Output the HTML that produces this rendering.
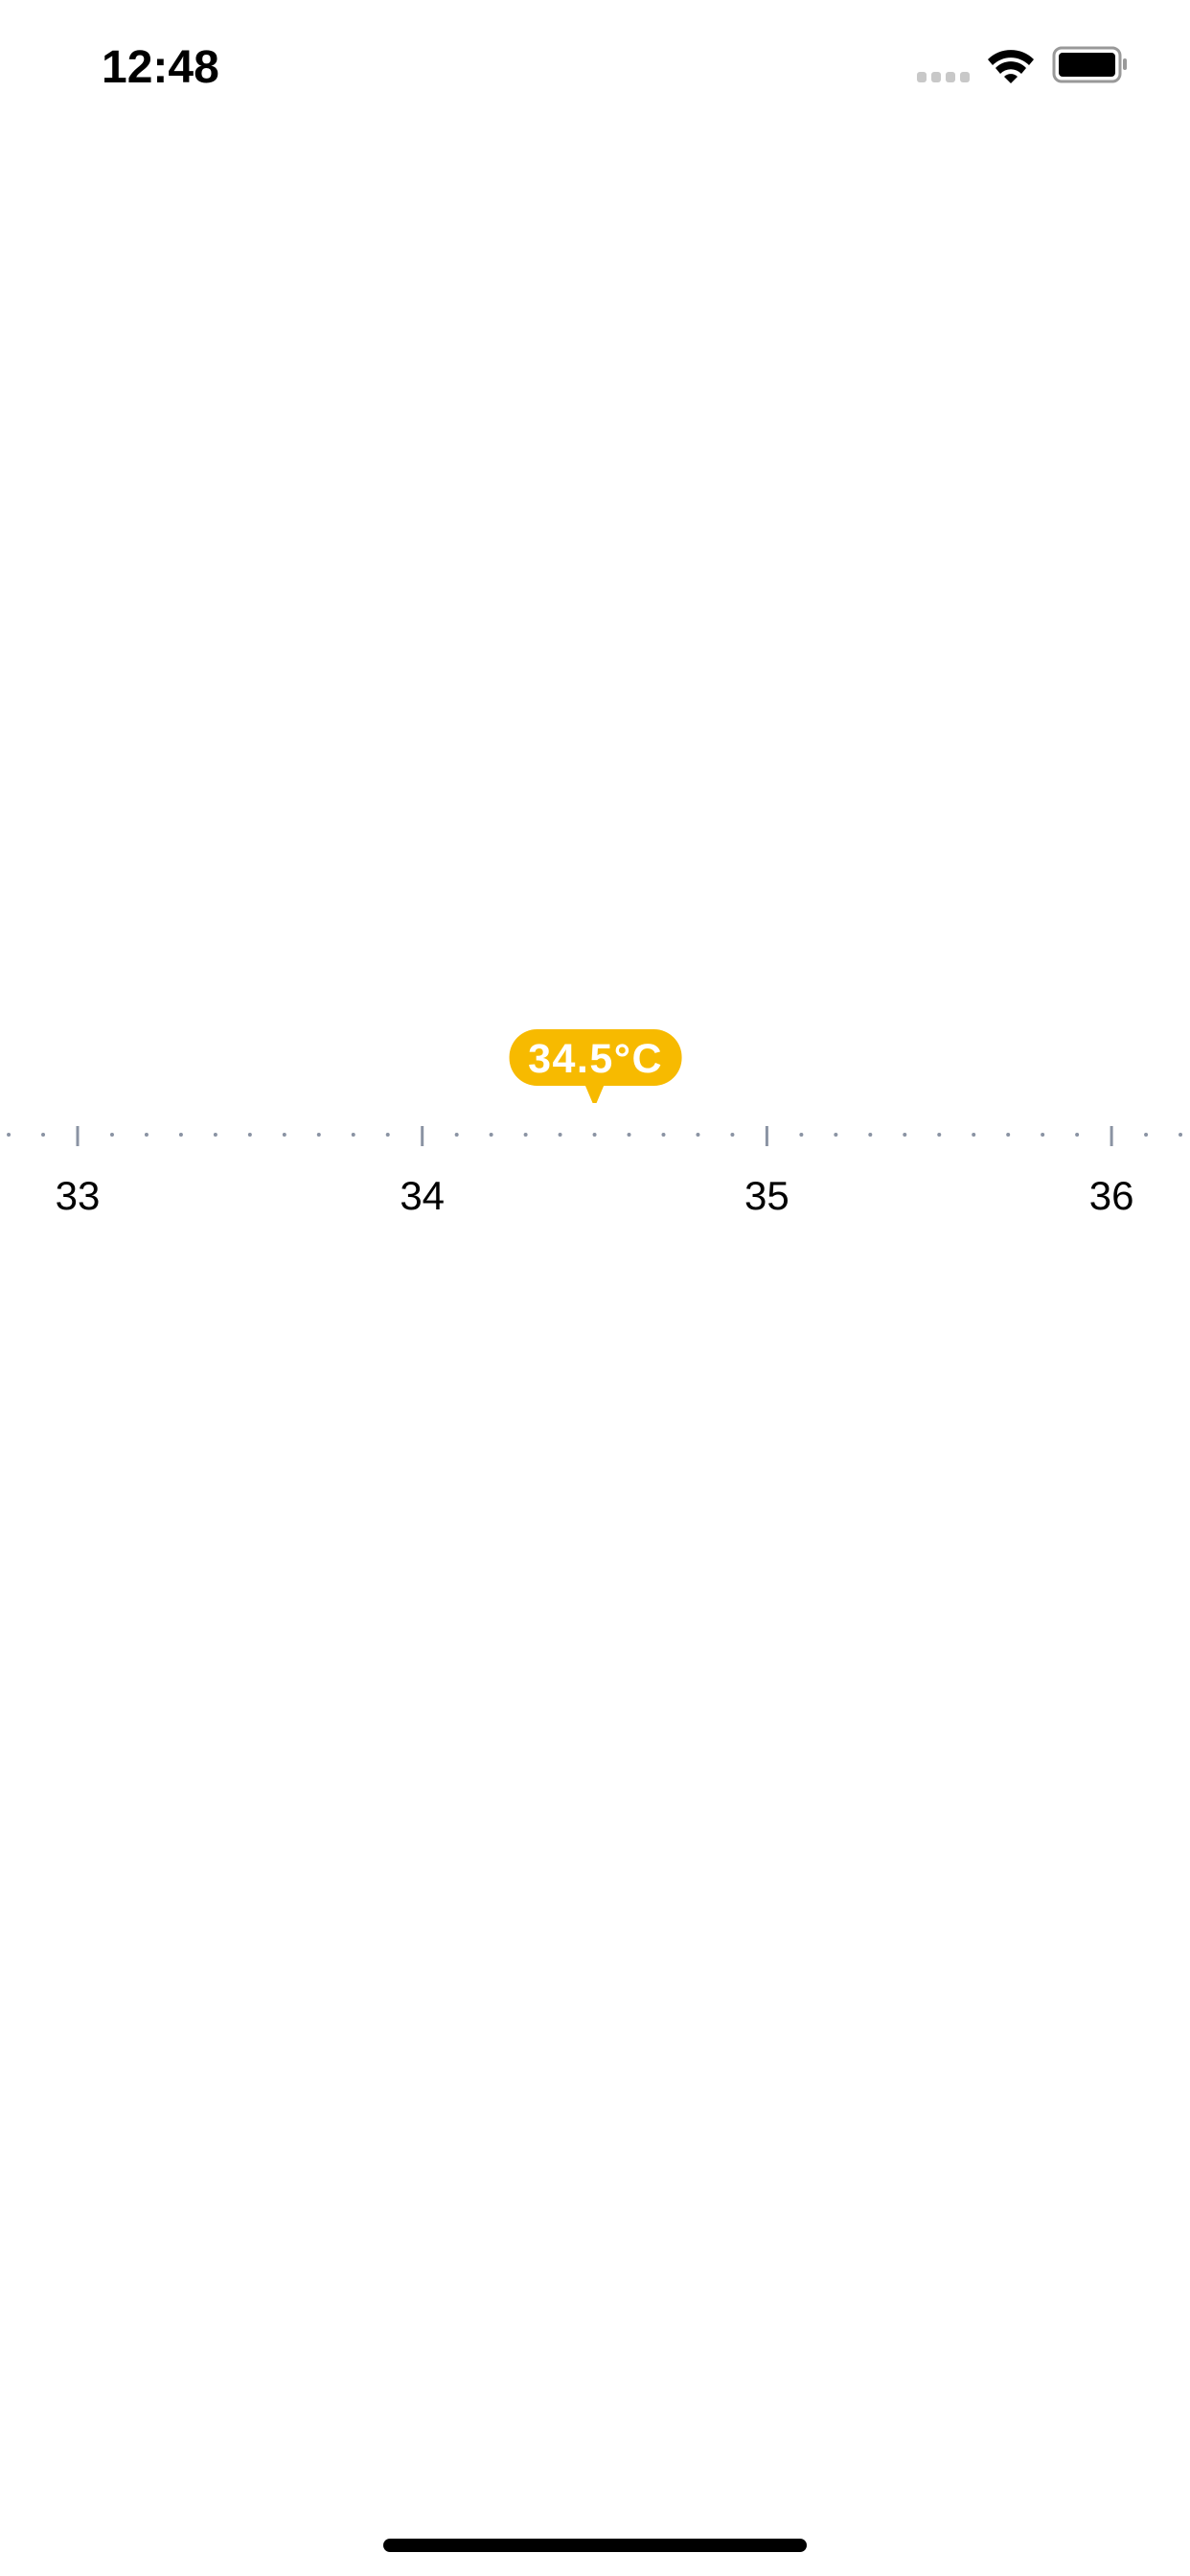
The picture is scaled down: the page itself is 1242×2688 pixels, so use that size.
<!DOCTYPE html>
<html><head><meta charset="utf-8"><style>
html,body{margin:0;padding:0;background:#fff;}
body{width:1242px;height:2688px;position:relative;overflow:hidden;font-family:"Liberation Sans",sans-serif;}
</style></head><body>
<div style="position:absolute;left:106px;top:43px;font-size:48px;font-weight:bold;color:#000;">12:48</div>
<svg style="position:absolute;left:0;top:0" width="1242" height="140">
 <g fill="#c8c8c8">
  <rect x="957" y="75" width="10" height="11" rx="3"/><rect x="972" y="75" width="10" height="11" rx="3"/><rect x="987" y="75" width="10" height="11" rx="3"/><rect x="1002" y="75" width="10" height="11" rx="3"/>
 </g>
 <g fill="#000">
  <path d="M1031,62 A34,34 0 0 1 1079,62 L1074,68 A27,27 0 0 0 1036,68 Z"/>
  <path d="M1039,71 A22,22 0 0 1 1071,71 L1066,77 A15,15 0 0 0 1044,77 Z"/>
  <path d="M1048,80 A10,10 0 0 1 1062,80 L1055,87 Z"/>
 </g>
 <g>
  <rect x="1100" y="50" width="69" height="35" rx="8" fill="none" stroke="#999" stroke-width="3"/>
  <rect x="1105" y="55" width="59" height="25" rx="4" fill="#000"/>
  <rect x="1172" y="61" width="4" height="12" rx="2" fill="#999"/>
 </g>
</svg>
<svg id="chart" style="position:absolute;left:0;top:1040px" width="1242" height="260"></svg>
<div style="position:absolute;left:400px;top:2649px;width:442px;height:14px;border-radius:7px;background:#000;"></div>
<script>
const majorTicks = [33, 34, 35, 36];
const tickLabels = ["33", "34", "35", "36"];
const selectedValue = [34.5];
const ns = "http://www.w3.org/2000/svg";
const svg = document.getElementById("chart");
function x(v){ return 81 + (v - 33) * 359.7; }
function mk(t, attrs){ const e = document.createElementNS(ns, t); for (const k in attrs) e.setAttribute(k, attrs[k]); svg.appendChild(e); return e; }
for (let i = -3; i <= 33; i++) {
  const v = 33 + i / 10;
  if (i % 10 === 0) continue;
  const px = x(v);
  if (px < 0 || px > 1242) continue;
  const d = mk("circle", {cx: px, cy: 144, r: 2, fill: "#8a93a3"});
  
  
}
majorTicks.forEach((v, i) => {
  const t = mk("rect", {x: x(v) - 1.5, y: 135, width: 3, height: 21, fill: "#8a93a3"});
  
  
  const l = mk("text", {x: x(v), y: 222, "text-anchor": "middle", "font-size": 42, fill: "#000", "font-family": "Liberation Sans, sans-serif"});
  l.textContent = tickLabels[i];
  
  
});
const sv = selectedValue[0];
const cx = x(sv);
const b = mk("rect", {x: cx - 89, y: 34, width: 180, height: 59, rx: 29, fill: "#F7BA00"});


const p = mk("path", {d: `M${cx-10},92 L${cx+10},92 L${cx+2},111 L${cx-2},111 Z`, fill: "#F7BA00"});


const bt = mk("text", {x: cx + 1, y: 79, "text-anchor": "middle", "font-size": 43, "font-weight": "bold", "letter-spacing": "1.5", fill: "#fff", "font-family": "Liberation Sans, sans-serif"});
bt.textContent = sv.toFixed(1) + "°C";


</script>
</body></html>
